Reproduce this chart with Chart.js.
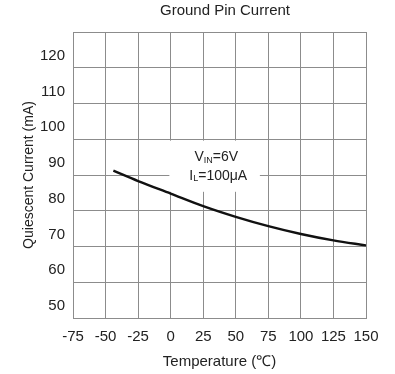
<!DOCTYPE html>
<html>
<head>
<meta charset="utf-8">
<script src="https://cdn.jsdelivr.net/npm/chart.js@4"></script>
<style>
  html, body { margin: 0; padding: 0; background: #fff; }
  #wrap { width: 395px; height: 374px; }
</style>
</head>
<body>
<div id="wrap"><canvas id="chart"></canvas></div>
<script>
// values
const temperatures = [-44, -25, 0, 25, 50, 75, 100, 125, 150];
const currents = [91.2, 88.3, 84.8, 81.3, 78.3, 75.7, 73.5, 71.7, 70.3];
const xTickValues = [-75, -50, -25, 0, 25, 50, 75, 100, 125, 150];
const yTickValues = [50, 60, 70, 80, 90, 100, 110, 120];

const FONT = "'Liberation Sans', Arial, sans-serif";
const gridColor = '#8c8c8c';
const textColor = '#222';

// draws the title and the V_IN / I_L note
const notePlugin = {
    id: 'note',
    beforeDatasetsDraw(chart) {
        const ctx = chart.ctx, x = chart.scales.x, y = chart.scales.y;
        // white box behind the note hides the grid
        const x0 = x.getPixelForValue(-1), x1 = x.getPixelForValue(68.5);
        const y0 = y.getPixelForValue(99.6), y1 = y.getPixelForValue(85.3);
        ctx.save();
        ctx.fillStyle = '#fff';
        ctx.fillRect(x0, y0, x1 - x0, y1 - y0);
        ctx.restore();
    },
    afterDraw(chart) {
        const ctx = chart.ctx, x = chart.scales.x, y = chart.scales.y;
        ctx.save();
        ctx.fillStyle = textColor;
        ctx.textBaseline = 'middle';
        ctx.textAlign = 'center';
        ctx.font = '15px ' + FONT;
        ctx.fillText('Ground Pin Current', 225, 11);

        const drawSub = (parts, cx, cy) => {
            ctx.textAlign = 'left';
            let w = 0;
            parts.forEach(p => {
                ctx.font = (p.sub ? '9px ' : '14px ') + FONT;
                w += ctx.measureText(p.t).width;
            });
            let px = cx - w / 2;
            parts.forEach(p => {
                ctx.font = (p.sub ? '9px ' : '14px ') + FONT;
                ctx.fillText(p.t, px, cy + (p.sub ? 3 : 0));
                px += ctx.measureText(p.t).width;
            });
        };
        const cx = x.getPixelForValue(35);
        drawSub([{t: 'V'}, {t: 'IN', sub: true}, {t: '=6V'}], cx, y.getPixelForValue(95.0));
        drawSub([{t: 'I'}, {t: 'L', sub: true}, {t: '=100\u03bcA'}], cx + 2, y.getPixelForValue(89.8));
        ctx.restore();
    }
};

new Chart(document.getElementById('chart'), {
    type: 'line',
    data: {
        datasets: [{
            data: temperatures.map((t, i) => ({x: t, y: currents[i]})),
            borderColor: '#111',
            borderWidth: 2.4,
            pointRadius: 0,
            cubicInterpolationMode: 'monotone',
            fill: false
        }]
    },
    options: {
        responsive: true,
        maintainAspectRatio: false,
        animation: false,
        layout: {
            padding: {top: 32, right: 29, bottom: 0, left: 0}
        },
        plugins: {
            legend: {display: false},
            title: {display: false},
            tooltip: {enabled: false}
        },
        scales: {
            x: {
                type: 'linear',
                min: xTickValues[0],
                max: xTickValues[xTickValues.length - 1],
                afterBuildTicks: (scale) => {
                    scale.ticks = xTickValues.map(v => ({value: v}));
                },
                afterFit: (scale) => { scale.height = 56; },
                grid: {color: gridColor, lineWidth: 1, drawTicks: false},
                border: {color: gridColor, width: 1},
                ticks: {
                    color: textColor,
                    font: {family: FONT, size: 15},
                    padding: 10,
                    maxRotation: 0,
                    autoSkip: false
                },
                title: {
                    display: true,
                    text: 'Temperature (\u2103)',
                    color: textColor,
                    font: {family: FONT, size: 15},
                    padding: {top: 0, bottom: 3}
                }
            },
            y: {
                type: 'linear',
                min: yTickValues[0],
                max: 130,
                afterBuildTicks: (scale) => {
                    scale.ticks = yTickValues.concat([130]).map(v => ({value: v}));
                },
                afterFit: (scale) => { scale.width = 73; },
                grid: {color: gridColor, lineWidth: 1, drawTicks: false},
                border: {color: gridColor, width: 1},
                ticks: {
                    color: textColor,
                    font: {family: FONT, size: 15},
                    padding: 8,
                    labelOffset: -12,
                    autoSkip: false,
                    callback: (v) => yTickValues.includes(v) ? String(v) : ''
                },
                title: {
                    display: true,
                    text: 'Quiescent Current (mA)',
                    color: textColor,
                    font: {family: FONT, size: 14},
                    padding: {top: 21, bottom: 0}
                }
            }
        }
    },
    plugins: [notePlugin]
});
</script>
</body>
</html>
